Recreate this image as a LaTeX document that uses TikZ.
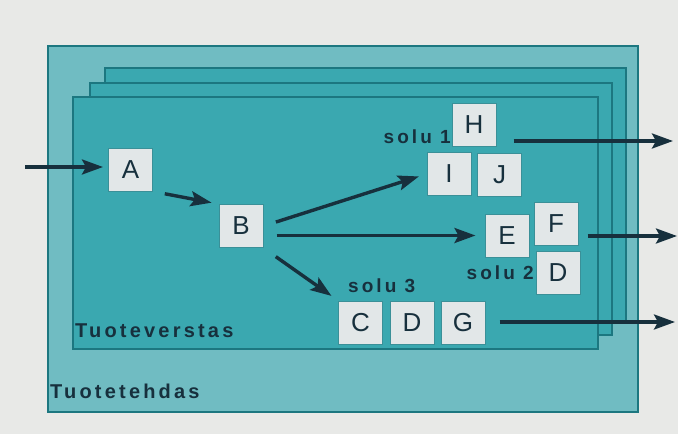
\documentclass[tikz,border=0pt]{standalone}
\usepackage{fontspec}
\setmainfont{Liberation Sans}
\usetikzlibrary{arrows.meta}
\definecolor{paper}{HTML}{E8E9E7}
\definecolor{factory}{HTML}{70BCC2}
\definecolor{workshop}{HTML}{3AA8B0}
\definecolor{rim}{HTML}{1C7780}
\definecolor{cellfill}{HTML}{E2E7E8}
\definecolor{celledge}{HTML}{3A9098}
\definecolor{ink}{HTML}{17303D}
\tikzset{
  layer/.style={fill=workshop, draw=rim, line width=1.6pt},
  cellbox/.style={rectangle, minimum width=44pt, minimum height=43pt, inner sep=0pt,
    fill=cellfill, draw=celledge, line width=1pt, text=ink,
    font=\fontsize{26}{30}\selectfont},
  tag/.style={inner sep=0pt, text=ink,
    font=\fontsize{19}{22}\selectfont\bfseries\addfontfeature{LetterSpace=16}},
  bigtag/.style={inner sep=0pt, text=ink,
    font=\fontsize{20}{24}\selectfont\bfseries\addfontfeature{LetterSpace=16}},
  arr/.style={draw=ink, line width=3.4pt, -{Stealth[length=21pt,width=15pt,inset=4pt]}}
}
\begin{document}
\begin{tikzpicture}[x=1pt,y=-1pt]
  % page
  \fill[paper] (0,0) rectangle (678,434);
  \useasboundingbox (0,0) rectangle (678,434);

  % factory (outer frame)
  \draw[fill=factory, draw=rim, line width=1.6pt] (48,46) rectangle (638,412);

  % stacked workshops, back to front
  \draw[layer] (105,68) rectangle (626,321);
  \draw[layer] (90,83) rectangle (612,335);
  \draw[layer] (73,97) rectangle (598,349);

  % frame labels
  \node[bigtag, anchor=base west] (ws) at (75,337) {Tuoteverstas};
  \node[bigtag, anchor=base west] (fc) at (50,398) {Tuotetehdas};

  % cells
  \node[cellbox] (A) at (130.5,169.5) {A};
  \node[cellbox] (B) at (241,226) {B};

  \node[cellbox] (H) at (474,125) {H};
  \node[cellbox] (I) at (449,174) {I};
  \node[cellbox] (J) at (499.5,174.5) {J};

  \node[cellbox] (E) at (507,235.5) {E};
  \node[cellbox] (F) at (556,223.5) {F};
  \node[cellbox] (D2) at (558,272.5) {D};

  \node[cellbox] (C) at (360.5,322.5) {C};
  \node[cellbox] (D3) at (412,322.5) {D};
  \node[cellbox] (G) at (463,322.5) {G};

  % cell labels
  \node[tag, anchor=base east] (s1) at (451,143) {solu 1};
  \node[tag, anchor=base east] (s2) at (534,279) {solu 2};
  \node[tag, anchor=base west] (s3) at (348,292) {solu 3};

  % material flow
  \coordinate (in) at (25,167);
  \coordinate (o1) at (673,141);
  \coordinate (o2) at (677,236);
  \coordinate (o3) at (675,322);

  \draw[arr, shorten >=5pt] (in) -- (A.west |- in);
  \draw[arr, shorten <=12pt, shorten >=7pt] (A.south east) -- (B.north west);
  \draw[arr, shorten <=13pt, shorten >=8pt] (B.east) -- (I.west);
  \draw[arr, shorten <=13pt, shorten >=9pt] (B.east |- E.west) -- (E.west);
  \draw[arr, shorten <=15pt, shorten >=8pt] (B.south east) -- (C.north west);
  \draw[arr, shorten <=17pt] (H.east |- o1) -- (o1);
  \draw[arr, shorten <=9pt] (F.east |- o2) -- (o2);
  \draw[arr, shorten <=14pt] (G.east |- o3) -- (o3);
\end{tikzpicture}
\end{document}
